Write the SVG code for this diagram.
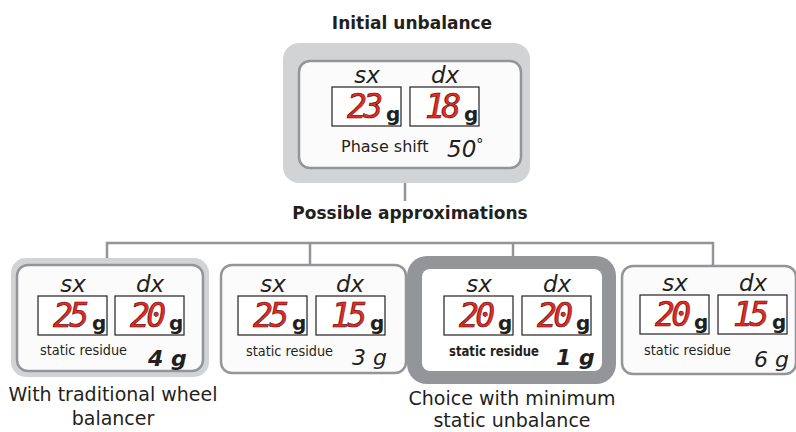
<svg xmlns="http://www.w3.org/2000/svg" width="796" height="432" viewBox="0 0 796 432">
<style>
text{font-family:"DejaVu Sans","Liberation Sans",sans-serif;fill:#231f20}
.h{font-weight:bold;font-size:17px;text-anchor:middle}
.lab{font-style:italic;font-size:23px;text-anchor:middle}
.dig{font-family:"DejaVu Sans Mono","Liberation Mono",monospace;font-style:italic;font-size:33px;fill:#f0271c;stroke:#3a0c0c;stroke-width:0.6;text-anchor:end}
.g{font-weight:bold;font-size:20px}
.disp{fill:#fff;stroke:#231f20;stroke-width:1.2}
.sr{font-size:14px}
.val{font-style:italic;font-size:22px}
.cap{font-size:19px;text-anchor:middle}
.conn{stroke:#939598;stroke-width:2.5;fill:none}
.card{fill:#fbfbfb;stroke:#939598;stroke-width:2.5}
</style>
<text class="h" x="412" y="29">Initial unbalance</text>
<text class="h" x="410" y="219">Possible approximations</text>
<g id="connectors">
<path class="conn" d="M405 183V201"/>
<path class="conn" d="M107 259V243H713V266M310 243V265M513 243V257"/>
</g>
<g id="initial">
<rect x="283" y="43" width="247" height="140" rx="16" fill="#d1d3d4"/>
<rect class="card" x="299" y="61" width="222" height="107" rx="11"/>
<text class="lab" x="367" y="83">sx</text>
<text class="lab" x="445" y="83">dx</text>
<rect class="disp" x="332" y="87" width="69" height="39"/>
<rect class="disp" x="410" y="87" width="69" height="39"/>
<text class="dig" x="383" y="118" textLength="36">23</text><text class="g" x="386" y="121">g</text>
<text class="dig" x="461" y="118" textLength="36">18</text><text class="g" x="464" y="121">g</text>
<text x="341" y="152" font-size="16">Phase shift</text>
<text x="447" y="157" font-size="23" font-style="italic">50</text>
<text x="476" y="150" font-size="15">°</text>
</g>
<g id="traditional">
<rect x="11" y="258" width="198" height="119" rx="15" fill="#d1d3d4"/>
<rect class="card" x="17" y="265" width="186" height="106" rx="11"/>
<text class="lab" x="73" y="292">sx</text>
<text class="lab" x="150" y="292">dx</text>
<rect class="disp" x="38" y="296" width="69" height="39"/>
<rect class="disp" x="115" y="296" width="69" height="39"/>
<text class="dig" x="89" y="327" textLength="36">25</text><text class="g" x="92" y="330">g</text>
<text class="dig" x="166" y="327" textLength="36">20</text><text class="g" x="169" y="330">g</text>
<text class="sr" x="40" y="355" textLength="87" lengthAdjust="spacingAndGlyphs">static residue</text>
<text class="val" x="148" y="366" font-weight="bold">4 g</text>
<text class="cap" x="113" y="401">With traditional wheel</text>
<text class="cap" x="113" y="425">balancer</text>
</g>
<g id="option2">
<rect class="card" x="221" y="265" width="185" height="108" rx="11"/>
<text class="lab" x="273" y="292">sx</text>
<text class="lab" x="350" y="292">dx</text>
<rect class="disp" x="238" y="296" width="69" height="39"/>
<rect class="disp" x="316" y="296" width="69" height="39"/>
<text class="dig" x="289" y="327" textLength="36">25</text><text class="g" x="292" y="330">g</text>
<text class="dig" x="367" y="327" textLength="36">15</text><text class="g" x="370" y="330">g</text>
<text class="sr" x="246" y="356" textLength="87" lengthAdjust="spacingAndGlyphs">static residue</text>
<text class="val" x="352" y="365">3 g</text>
</g>
<g id="choice">
<rect x="407" y="256" width="209" height="128" rx="20" fill="#939598"/>
<rect x="422" y="269" width="180" height="102" rx="8" fill="#fff"/>
<text class="lab" x="479" y="292">sx</text>
<text class="lab" x="557" y="292">dx</text>
<rect class="disp" x="444" y="296" width="69" height="39"/>
<rect class="disp" x="522" y="296" width="69" height="39"/>
<text class="dig" x="495" y="327" textLength="36">20</text><text class="g" x="498" y="330">g</text>
<text class="dig" x="573" y="327" textLength="36">20</text><text class="g" x="576" y="330">g</text>
<text class="sr" x="449" y="356" font-weight="bold" textLength="90" lengthAdjust="spacingAndGlyphs">static residue</text>
<text class="val" x="556" y="365" font-weight="bold">1 g</text>
<text class="cap" x="512" y="405">Choice with minimum</text>
<text class="cap" x="512" y="427">static unbalance</text>
</g>
<g id="option4">
<rect class="card" x="622" y="266" width="174" height="108" rx="11"/>
<text class="lab" x="675" y="291">sx</text>
<text class="lab" x="753" y="291">dx</text>
<rect class="disp" x="640" y="295" width="69" height="39"/>
<rect class="disp" x="718" y="295" width="69" height="39"/>
<text class="dig" x="691" y="326" textLength="36">20</text><text class="g" x="694" y="329">g</text>
<text class="dig" x="769" y="326" textLength="36">15</text><text class="g" x="772" y="329">g</text>
<text class="sr" x="644" y="355" textLength="87" lengthAdjust="spacingAndGlyphs">static residue</text>
<text class="val" x="754" y="367">6 g</text>
</g>
</svg>
